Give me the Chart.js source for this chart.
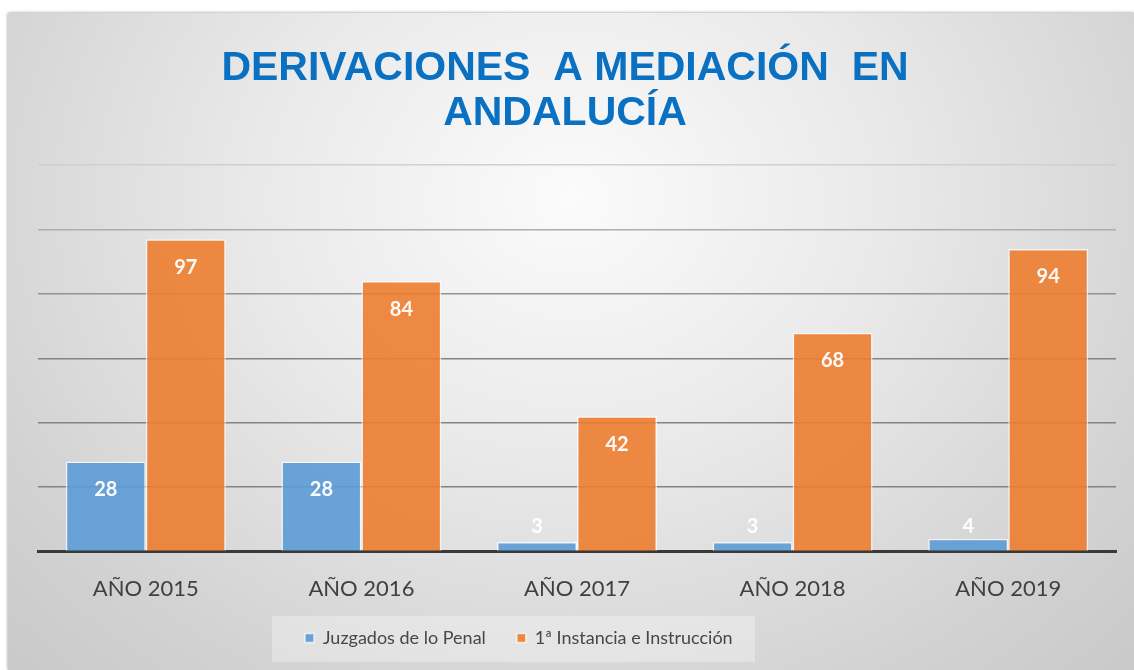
<!DOCTYPE html>
<html>
<head>
<meta charset="utf-8">
<script src="https://cdn.jsdelivr.net/npm/chart.js@4"></script>
<style>
    html, body { margin: 0; padding: 0; background: #fff; }
    #marco {
        position: absolute;
        left: 8px;
        top: 13px;
        width: 1126px;
        height: 657px;
        background: radial-gradient(ellipse at 50% 28%, #fbfbfb 0%, #e9e9e9 40%, #d2d2d2 80%, #c9c9c9 100%);
        box-shadow: 0 0 3px rgba(0, 0, 0, 0.45);
    }
    canvas { display: block; }
</style>
</head>
<body>
<div id="marco"><canvas id="grafico" width="1126" height="657"></canvas></div>
<script>
// Datos del gráfico
const anios = ['AÑO 2015', 'AÑO 2016', 'AÑO 2017', 'AÑO 2018', 'AÑO 2019'];
const juzgadosPenal = [28, 28, 3, 3, 4];
const primeraInstancia = [97, 84, 42, 68, 94];
const titulo = ['DERIVACIONES  A MEDIACIÓN  EN', 'ANDALUCÍA'];

// Color de cada línea de la cuadrícula (más clara arriba)
function colorRejilla(ctx) {
    const v = ctx.tick ? ctx.tick.value : 0;
    if (v >= 120) return '#d0d0d0';
    if (v >= 100) return '#adadad';
    if (v >= 80) return '#939393';
    return '#838383';
}

// Etiquetas de valor dentro de las barras
const etiquetasValor = {
    id: 'etiquetasValor',
    afterDatasetsDraw(chart) {
        const ctx = chart.ctx;
        ctx.save();
        ctx.font = 'bold 20px Lato';
        ctx.fillStyle = 'rgba(255,255,255,0.96)';
        ctx.textAlign = 'center';
        ctx.textBaseline = 'middle';
        chart.data.datasets.forEach((ds, i) => {
            chart.getDatasetMeta(i).data.forEach((bar, j) => {
                const y = Math.min(bar.y + 28, bar.base - 24);
                ctx.fillText(ds.data[j], bar.x, y);
            });
        });
        ctx.restore();
    }
};

// Recoloca la leyenda y le pone un fondo
const cajaLeyenda = {
    id: 'cajaLeyenda',
    afterLayout(chart) {
        const lg = chart.legend;
        const pad = lg.options.labels.padding;
        const x0 = (lg.left + pad + lg.right - lg.lineWidths[0]) / 2;
        const dx = 297 - x0;
        lg.left += dx;
        lg.right += dx;
        // el texto queda en top + padding + 9
        lg.top = 625 - pad - 9;
        lg.bottom = lg.top + 90;
    },
    beforeDraw(chart) {
        const ctx = chart.ctx;
        ctx.save();
        ctx.fillStyle = 'rgba(255,255,255,0.3)';
        ctx.fillRect(264, 603, 483, 46);
        ctx.restore();
    }
};

const grafico = new Chart(document.getElementById('grafico'), {
    type: 'bar',
    data: {
        labels: anios,
        datasets: [
            {
                label: 'Juzgados de lo Penal',
                data: juzgadosPenal,
                backgroundColor: 'rgba(91,155,213,0.9)',
                borderColor: 'rgba(255,255,255,0.7)',
                borderWidth: 1.5
            },
            {
                label: '1ª Instancia e Instrucción',
                data: primeraInstancia,
                backgroundColor: 'rgba(237,125,49,0.9)',
                borderColor: 'rgba(255,255,255,0.7)',
                borderWidth: 1.5
            }
        ]
    },
    options: {
        responsive: false,
        animation: false,
        categoryPercentage: 0.742,
        barPercentage: 1.0,
        layout: {
            padding: { left: 6, right: 18, top: 0, bottom: 16 }
        },
        scales: {
            x: {
                grid: { display: false },
                border: { display: true, color: '#3a3a3a', width: 3 },
                ticks: {
                    color: '#404040',
                    font: { family: 'Lato', size: 22 },
                    padding: 16
                }
            },
            y: {
                min: 0,
                max: 120,
                afterFit(scale) { scale.width = 24; },
                ticks: { display: false, stepSize: 20 },
                border: { display: false },
                grid: { color: colorRejilla, lineWidth: 1.5, drawTicks: false }
            }
        },
        plugins: {
            title: {
                display: true,
                text: titulo,
                color: '#0a70c2',
                font: { family: 'Liberation Sans', size: 41, weight: 'bold', lineHeight: 1.1 },
                padding: { top: 33, bottom: 29 }
            },
            legend: {
                display: true,
                position: 'bottom',
                maxHeight: 36,
                labels: {
                    color: '#474747',
                    font: { family: 'Lato', size: 18 },
                    boxWidth: 9,
                    boxHeight: 9,
                    padding: 31
                }
            },
            tooltip: { enabled: false }
        }
    },
    plugins: [etiquetasValor, cajaLeyenda]
});
</script>
</body>
</html>
